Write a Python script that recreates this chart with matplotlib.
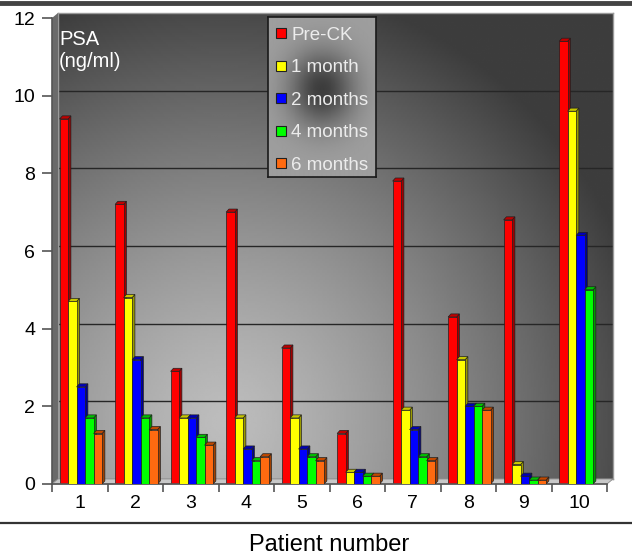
import numpy as np
import matplotlib
matplotlib.use("Agg")
import matplotlib.pyplot as plt
from matplotlib.patches import Polygon
from matplotlib.lines import Line2D

plt.rcParams['font.family'] = ['Liberation Sans', 'DejaVu Sans']

# PSA values (ng/ml) per patient and follow-up time
patients = [1, 2, 3, 4, 5, 6, 7, 8, 9, 10]
series_names = ["Pre-CK", "1 month", "2 months", "4 months", "6 months"]
pre_ck = [9.4, 7.2, 2.9, 7.0, 3.5, 1.3, 7.8, 4.3, 6.8, 11.4]
month_1 = [4.7, 4.8, 1.7, 1.7, 1.7, 0.3, 1.9, 3.2, 0.5, 9.6]
month_2 = [2.5, 3.2, 1.7, 0.9, 0.9, 0.3, 1.4, 2.0, 0.2, 6.4]
month_4 = [1.7, 1.7, 1.2, 0.6, 0.7, 0.2, 0.7, 2.0, 0.1, 5.0]
month_6 = [1.3, 1.4, 1.0, 0.7, 0.6, 0.2, 0.6, 1.9, 0.1, None]

face_colors = ["#ff0000", "#ffff00", "#0000ff", "#00ff00", "#ff6a10"]
side_colors = ["#a00000", "#9a9a00", "#00008c", "#009a00", "#a04000"]
top_colors = ["#c00000", "#c8c800", "#0000b8", "#00c000", "#c04800"]

W, H = 632, 556
fig = plt.figure(figsize=(W / 100, H / 100), dpi=100)
fig.patch.set_facecolor("white")

def box(x0, y0, x1, y1):
    # pixel box (top-left origin) -> figure fraction rect
    return [x0 / W, 1 - y1 / H, (x1 - x0) / W, (y1 - y0) / H]

# back wall with gradient and gridlines, shifted for the 3D depth
wall = fig.add_axes(box(58, 13, 613, 479))
ny, nx = 200, 300
X, Y = np.meshgrid(np.linspace(0, 1, nx), np.linspace(0, 1, ny))
r = np.sqrt(((X - 0.3) / 0.78) ** 2 + ((Y - 0.12) / 0.95) ** 2)
shade = 0.74 - 0.5 * np.clip(r, 0, 1) ** 1.3
wall.imshow(shade, cmap="gray", vmin=0, vmax=1, origin="lower",
            extent=[0, 1, 0, 1], aspect="auto", transform=wall.transAxes)
wall.set_xlim(0, 1)
wall.set_ylim(0, 12)
for yv in range(2, 12, 2):
    wall.axhline(yv, color="#262626", lw=1.0)
wall.set_xticks([])
wall.set_yticks([])
for s in wall.spines.values():
    s.set_color("#9a9a9a")
    s.set_linewidth(1.0)

# main axes with the bars
ax = fig.add_axes(box(52, 18, 607, 484))
ax.patch.set_alpha(0)
ax.set_xlim(0.5, 10.5)
ax.set_ylim(0, 12)

dx, dy = 0.05, 0.08
w = 0.153
x = np.array(patients, dtype=float)
ox, oy = 0.108, 0.13

# left side wall and floor strip
ax.add_patch(Polygon([(0.5, 0), (0.5 + ox, oy), (0.5 + ox, 12 + oy), (0.5, 12)],
                     closed=True, facecolor="#6a6a6a", edgecolor="none",
                     zorder=1, clip_on=False))
ax.add_patch(Polygon([(0.5, 0), (10.5, 0), (10.5 + ox, oy), (0.5 + ox, oy)],
                     closed=True, facecolor="#c8c8c8", edgecolor="#8a8a8a", lw=0.6,
                     zorder=1, clip_on=False))

all_series = [pre_ck, month_1, month_2, month_4, month_6]
for i, vals in enumerate(all_series):
    xs = x + (i - 2) * w + 0.02
    for xc, h in zip(xs, vals):
        if h is None:
            continue
        left = xc - w / 2
        right = xc + w / 2
        z = 2 + i
        ax.add_patch(Polygon([(right, 0), (right + dx, dy), (right + dx, h + dy), (right, h)],
                             closed=True, facecolor=side_colors[i], edgecolor="#202020",
                             lw=0.5, zorder=z))
        ax.add_patch(Polygon([(left, h), (left + dx, h + dy), (right + dx, h + dy), (right, h)],
                             closed=True, facecolor=top_colors[i], edgecolor="#202020",
                             lw=0.5, zorder=z))
        ax.bar(xc, h, width=w, color=face_colors[i], edgecolor="#202020",
               linewidth=0.5, zorder=z)

for s in ["top", "right"]:
    ax.spines[s].set_visible(False)
ax.spines["left"].set_color("#555555")
ax.spines["bottom"].set_color("#555555")
ax.spines["left"].set_linewidth(1.2)
ax.spines["bottom"].set_linewidth(1.2)

ax.set_yticks(range(0, 13, 2))
ax.tick_params(axis="y", direction="out", length=7, width=1.2, color="#555555",
               labelsize=14, pad=5)
ax.set_xticks(patients)
ax.set_xticklabels([str(p) for p in patients])
ax.set_xticks(np.arange(0.5, 11, 1), minor=True)
ax.tick_params(axis="x", which="major", length=0, labelsize=14, pad=8)
ax.tick_params(axis="x", which="minor", direction="out", length=6, width=1.2,
               color="#555555")
ax.set_xlabel("Patient number", fontsize=17, labelpad=16)

ax.text(0.013, 0.975, "PSA\n(ng/ml)", transform=ax.transAxes, color="white",
        fontsize=14.5, va="top", ha="left", linespacing=1.2)

# legend box with its own dark-centred shading
leg_ax = fig.add_axes(box(268, 17, 376, 177))
LX, LY = np.meshgrid(np.linspace(0, 1, 120), np.linspace(0, 1, 160))
lr = np.sqrt(((LX - 0.5) / 0.45) ** 2 + ((LY - 0.55) / 0.35) ** 2)
lshade = 0.62 - 0.38 * np.exp(-lr ** 2 * 2.2)
leg_ax.imshow(lshade, cmap="gray", vmin=0, vmax=1, origin="lower",
              extent=[0, 1, 0, 1], aspect="auto")
leg_ax.set_xticks([])
leg_ax.set_yticks([])
for s in leg_ax.spines.values():
    s.set_color("#1a1a1a")
    s.set_linewidth(1.2)

handles = [Line2D([], [], marker="s", linestyle="none", markersize=7.5,
                  markerfacecolor=c, markeredgecolor="#202020", markeredgewidth=0.8)
           for c in face_colors]
leg = leg_ax.legend(handles, series_names, loc="upper left", bbox_to_anchor=(-0.03, 1.01),
                    frameon=False, fontsize=13.5, labelcolor="#ececec",
                    handlelength=0.55, handletextpad=0.25, labelspacing=0.82,
                    borderaxespad=0.2)

# horizontal rules framing the figure
fig.add_artist(Line2D([0, 1], [1 - 3 / H, 1 - 3 / H], color="#444444", lw=3.5))
fig.add_artist(Line2D([0, 1], [1 - 523 / H, 1 - 523 / H], color="#333333", lw=1.6))

fig.savefig("out.png", dpi=100)
